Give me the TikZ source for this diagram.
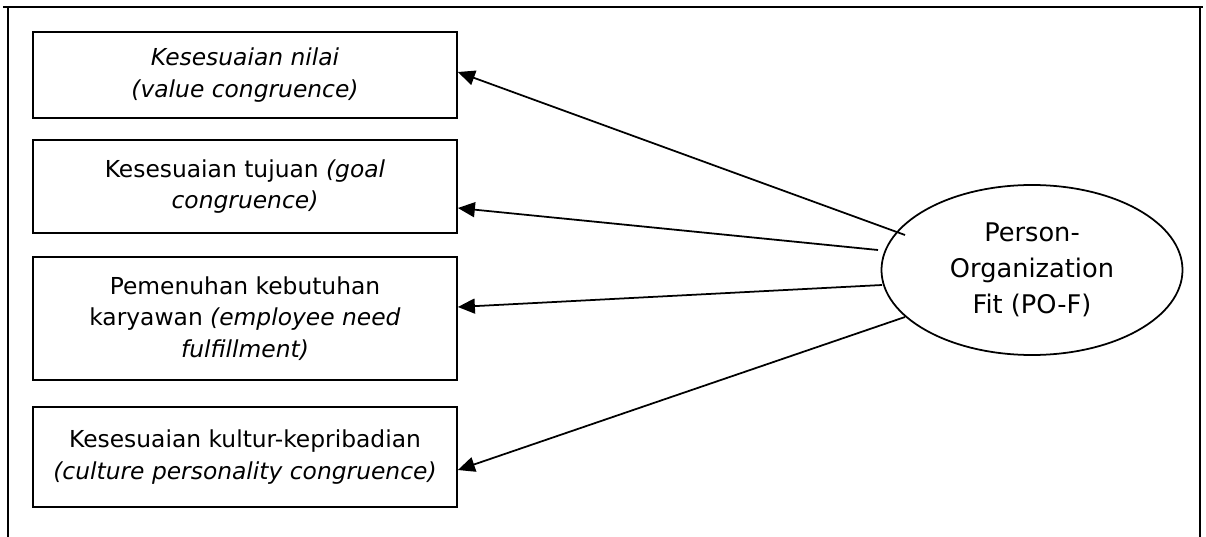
\documentclass[tikz,border=0pt]{standalone}
\usepackage{fontspec}
\setmainfont{DejaVu Sans}
\usepackage{tikz}
\usetikzlibrary{arrows.meta,positioning,shapes.geometric}

\begin{document}
\begin{tikzpicture}[
      dim/.style={draw, line width=1pt, minimum width=8.48cm,
                  font=\fontsize{13.3}{18}\selectfont, align=center, inner sep=2pt},
      fit/.style={draw, ellipse, line width=1pt, minimum width=6.02cm,
                  minimum height=3.4cm, inner sep=0pt,
                  font=\fontsize{14.6}{20.5}\selectfont, align=center},
      arr/.style={-{Triangle[length=0.34cm,width=0.3cm]}, line width=1pt}
  ]
    \useasboundingbox (0,0) rectangle (24.12,-10.74);
    % frame
    \draw[line width=1.2pt] (0.16,-10.8) -- (0.16,-0.14) (0.06,-0.14) -- (24.06,-0.14)
      (24.0,-0.14) -- (24.0,-10.8);
    % dimensions
    \node[dim, minimum height=1.72cm] (nilai) at (4.9,-1.5)
      {\textit{Kesesuaian nilai}\\ \textit{(value congruence)}};
    \node[dim, minimum height=1.86cm] (tujuan) at (4.9,-3.73)
      {Kesesuaian tujuan \textit{(goal}\\ \textit{congruence)}};
    \node[dim, minimum height=2.46cm] (butuh) at (4.9,-6.37)
      {Pemenuhan kebutuhan\\ karyawan \textit{(employee need}\\ \textit{fulfillment)}};
    \node[dim, minimum height=2.0cm] (kultur) at (4.9,-9.14)
      {Kesesuaian kultur-kepribadian\\ \textit{(culture personality congruence)}};
    \node[fit] (pof) at (20.64,-5.4) {Person-\\ Organization\\ Fit (PO-F)};
    % arrows
    \coordinate (s1) at ([shift={(-2.54,0.7)}]pof.center);
    \coordinate (s2) at ([shift={(-3.08,0.4)}]pof.center);
    \coordinate (s3) at ([shift={(-3.0,-0.3)}]pof.center);
    \coordinate (s4) at ([shift={(-2.54,-0.94)}]pof.center);
    \draw[arr] (s1) -- ([yshift=0.06cm]nilai.east);
    \draw[arr] (s2) -- ([yshift=-0.43cm]tujuan.east);
    \draw[arr] (s3) -- ([yshift=0.23cm]butuh.east);
    \draw[arr] (s4) -- ([yshift=-0.26cm]kultur.east);
  \end{tikzpicture}
\end{document}
